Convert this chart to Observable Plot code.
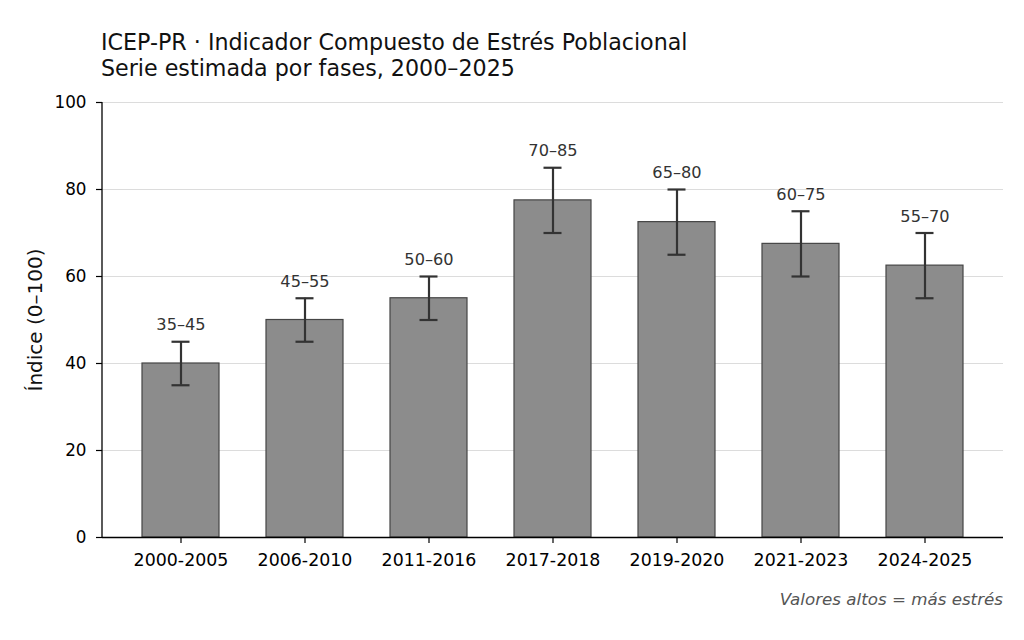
<!DOCTYPE html>
<html>
<head>
<meta charset="utf-8">
<script src="https://cdn.jsdelivr.net/npm/d3@7"></script>
<script src="https://cdn.jsdelivr.net/npm/@observablehq/plot@0.6"></script>
<style>
  html, body { margin: 0; padding: 0; background: #fff; }
  #wrap { position: relative; width: 1024px; height: 640px; font-family: "DejaVu Sans", sans-serif; }
  #title { position: absolute; left: 101px; top: 29px; font-size: 22.2px; line-height: 26px; color: #111; white-space: nowrap; }
  #chart { position: absolute; left: 0; top: 84px; }
  #caption { position: absolute; right: 21px; top: 589px; font-size: 16.7px; line-height: 20px; font-style: italic; color: #555; white-space: nowrap; }
</style>
</head>
<body>
<div id="wrap">
  <div id="title">ICEP-PR · Indicador Compuesto de Estrés Poblacional<br>Serie estimada por fases, 2000–2025</div>
  <div id="chart"></div>
  <div id="caption">Valores altos = más estrés</div>
</div>
<script>
const periods = ["2000-2005", "2006-2010", "2011-2016", "2017-2018", "2019-2020", "2021-2023", "2024-2025"];
const lows  = [35, 45, 50, 70, 65, 60, 55];
const highs = [45, 55, 60, 85, 80, 75, 70];
const rangeLabels = ["35–45", "45–55", "50–60", "70–85", "65–80", "60–75", "55–70"];
const yTicks = [0, 20, 40, 60, 80, 100];
const yLabel = "Índice (0–100)";

const data = periods.map((p, i) => ({
  period: p,
  lo: lows[i],
  hi: highs[i],
  mid: (lows[i] + highs[i]) / 2,
  label: rangeLabels[i]
}));

const errColor = "#333333";

const leftSpine = (index, scales, values, dims) => {
  const g = d3.create("svg:g");
  const x = dims.marginLeft;
  g.append("line")
    .attr("x1", x).attr("x2", x)
    .attr("y1", dims.marginTop).attr("y2", dims.height - dims.marginBottom)
    .attr("stroke", "#000").attr("stroke-width", 1.3);
  return g.node();
};

const chart = Plot.plot({
  width: 1024,
  height: 556,
  marginLeft: 102,
  marginRight: 21,
  marginTop: 18,
  marginBottom: 103,
  style: { fontFamily: "DejaVu Sans, sans-serif", fontSize: "16.7px", color: "#000", background: "#fff" },
  x: { domain: periods, paddingInner: 0.38, paddingOuter: 0.323, align: 0.5, label: null },
  y: { domain: [0, 100], label: null },
  marks: [
    Plot.ruleY(yTicks, { stroke: "#dcdcdc", strokeWidth: 1 }),
    Plot.barY(data, { x: "period", y: "mid", fill: "#8c8c8c", stroke: "#454545", strokeWidth: 1.2 }),
    Plot.ruleX(data, { x: "period", y1: "lo", y2: "hi", stroke: errColor, strokeWidth: 2.2 }),
    Plot.tickY(data, { x: "period", y: "lo", stroke: errColor, strokeWidth: 2.2, insetLeft: 29.5, insetRight: 29.5 }),
    Plot.tickY(data, { x: "period", y: "hi", stroke: errColor, strokeWidth: 2.2, insetLeft: 29.5, insetRight: 29.5 }),
    Plot.text(data, { x: "period", y: "hi", text: "label", dy: -16.5, fontSize: 16.2, fill: "#333" }),
    Plot.axisX({ tickSize: 6, tickPadding: 10.5, fontSize: 17.4, label: null, stroke: "#000", strokeWidth: 1.2 }),
    Plot.axisY({ ticks: yTicks, tickSize: 6, tickPadding: 10, fontSize: 16.8, label: null, stroke: "#000", strokeWidth: 1.2 }),
    Plot.ruleY([0], { stroke: "#000", strokeWidth: 1.3 }),
    leftSpine,
    Plot.text([yLabel], { frameAnchor: "left", textAnchor: "middle", lineAnchor: "middle", rotate: -90, dx: -67, fontSize: 20, fill: "#111" })
  ]
});

document.getElementById("chart").appendChild(chart);
</script>
</body>
</html>
